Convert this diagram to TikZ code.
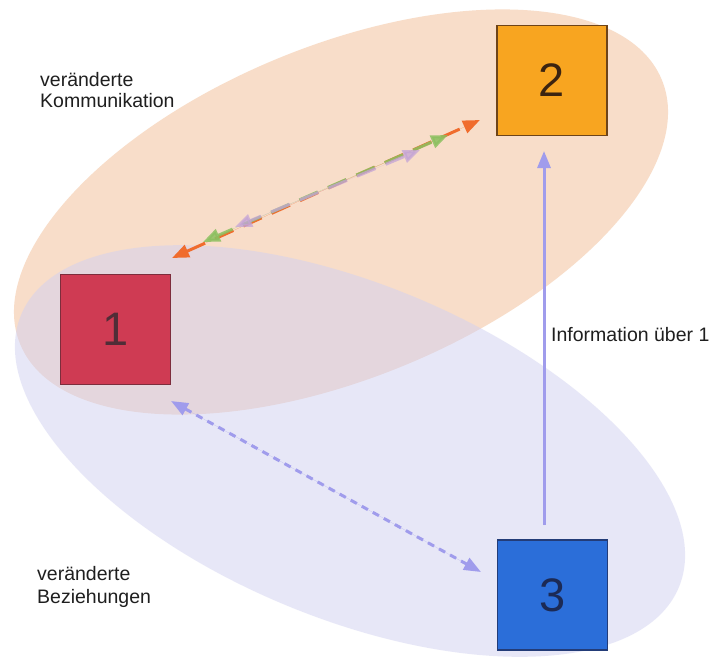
\documentclass[tikz,border=0pt]{standalone}
\usepackage{fontspec}
\setmainfont{Liberation Sans}
\usetikzlibrary{arrows.meta,calc}

% area fills
\definecolor{peach}{RGB}{248,221,201}
\definecolor{lilacfill}{RGB}{209,209,241}
% the three parties
\definecolor{boxred}{RGB}{207,59,83}
\definecolor{boxredline}{RGB}{125,45,60}
\definecolor{boxorange}{RGB}{248,165,32}
\definecolor{boxorangeline}{RGB}{110,68,25}
\definecolor{boxblue}{RGB}{43,110,217}
\definecolor{boxblueline}{RGB}{35,60,120}
\definecolor{digitred}{RGB}{80,45,55}
\definecolor{digitorange}{RGB}{60,36,16}
\definecolor{digitblue}{RGB}{28,42,85}
% connectors
\definecolor{periwinkle}{RGB}{160,156,236}
\definecolor{commorange}{RGB}{240,108,45}
\definecolor{commgreen}{RGB}{140,192,96}
\definecolor{commlilac}{RGB}{196,164,214}

\begin{document}
\begin{tikzpicture}[x=1pt,y=-1pt,
  party/.style={draw, line width=1.2pt, minimum width=110pt, minimum height=110pt,
    inner sep=0pt, outer sep=0pt, font=\fontsize{47}{47}\selectfont},
  caption/.style={anchor=base west, inner sep=0pt, text=black!88,
    font=\fontsize{19.5}{22}\selectfont},
  tip/.style={>={Triangle[length=17pt,width=13pt]}},
  commline/.style={tip, <->, line width=3pt, dash pattern=on 20pt off 11pt},
  relline/.style={tip, <->, line width=3pt, draw=periwinkle, dash pattern=on 7pt off 5.6pt},
  infoline/.style={tip, ->, line width=3pt, draw=periwinkle}
]
\useasboundingbox (0,0) rectangle (712,659);
\fill[white] (0,0) rectangle (712,659);

% the two areas
\fill[peach, rotate around={22.4:(341,212)}] (341,212) ellipse [x radius=347, y radius=166];
\fill[lilacfill, fill opacity=0.5, rotate around={-22.5:(350,451)}] (350,451) ellipse [x radius=356, y radius=167];

% parties
\node[party, fill=boxred, draw=boxredline, text=digitred] (p1) at (115.5,329.5) {1};
\node[party, fill=boxorange, draw=boxorangeline, text=digitorange] (p2) at (552,80.5) {2};
\node[party, fill=boxblue, draw=boxblueline, text=digitblue] (p3) at (552.5,595) {3};

% connector ends
\coordinate (o1) at ($(p1.north east)+(1.5,-16.5)$);
\coordinate (g1) at ($(p1.north east)+(32.5,-32.5)$);
\coordinate (l1) at ($(p1.north east)+(64.5,-47.5)$);
\coordinate (o2) at ($(p2.south west)+(-17,-15.5)$);
\coordinate (g2) at ($(p2.south west)+(-49,-0.5)$);
\coordinate (l2) at ($(p2.south west)+(-77,14.5)$);
\coordinate (d1) at ($(p1.south east)+(0.5,16.5)$);
\coordinate (d3) at ($(p3.north west)+(-16.5,32)$);
\coordinate (v3) at ($(p3.north)+(-8.5,-15)$);
\coordinate (v2) at ($(p2.south)+(-8,15.5)$);

% communication between 1 and 2
\draw[commline, draw=commorange, fill=commorange] (o1) -- (o2);
\draw[commline, draw=commgreen, fill=commgreen, opacity=0.85, dash phase=4pt] (g1) -- (g2);
\draw[commline, draw=commlilac, fill=commlilac, opacity=0.75, dash phase=8pt] (l1) -- (l2);

% relation between 1 and 3
\draw[relline, fill=periwinkle] (d1) -- (d3);

% information from 3 to 2
\draw[infoline, fill=periwinkle] (v3) -- (v2);

% captions
\node[caption] (c1a) at (40,86) {veränderte};
\node[caption] (c1b) at (40,107) {Kommunikation};
\node[caption] (c2a) at (37,580) {veränderte};
\node[caption] (c2b) at (37,603.5) {Beziehungen};
\node[caption] (info) at (551,341.5) {Information über 1};
\end{tikzpicture}
\end{document}
